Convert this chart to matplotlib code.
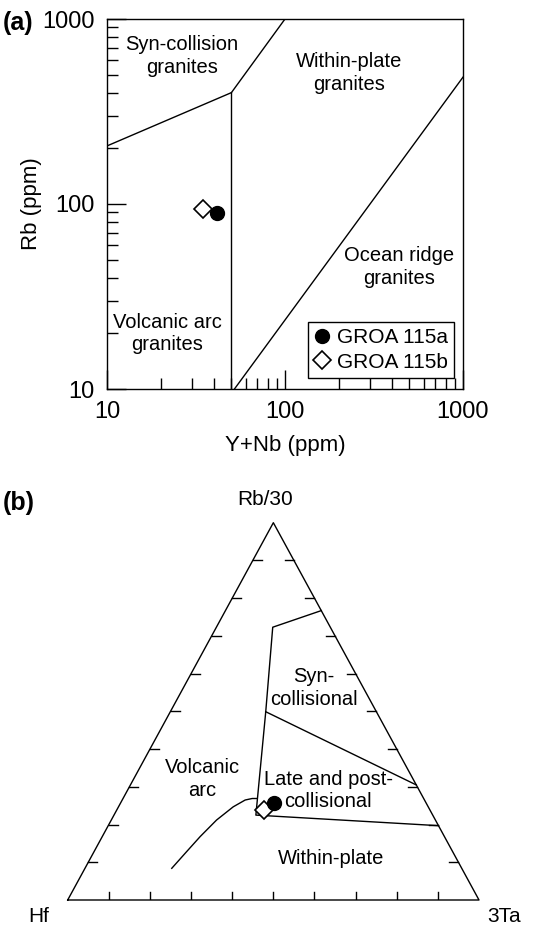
import matplotlib.pyplot as plt
import numpy as np

plt.rcParams['font.family'] = ['Liberation Sans', 'DejaVu Sans']

# ---- (a) Rb vs Y+Nb discrimination (Pearce et al. 1984)
syn_vag_x = [10, 50]
syn_vag_y = [206, 400]
vag_wpg_x = [50, 50]
vag_wpg_y = [10, 400]
syn_wpg_x = [50, 100]
syn_wpg_y = [400, 1000]
orb_wpg_x = [52, 1000]
orb_wpg_y = [10, 485]

sample_names = ['GROA 115a', 'GROA 115b']
sample_yNb = [41.7, 34.8]
sample_rb = [89, 94]

# ---- (b) Rb/30 - Hf - 3Ta ternary (Harris et al. 1986), fractions (Hf, 3Ta, Rb/30)
upper_line = [(0.0, 0.233, 0.767), (0.140, 0.137, 0.723), (0.269, 0.232, 0.499),
              (0.430, 0.345, 0.225), (0.0, 0.803, 0.197)]
syn_late_line = [(0.269, 0.232, 0.499), (0.0, 0.695, 0.305)]
vag_wp_curve = [(0.705, 0.211, 0.084), (0.651, 0.225, 0.128), (0.594, 0.238, 0.168),
                (0.532, 0.256, 0.212), (0.474, 0.279, 0.247), (0.436, 0.299, 0.265),
                (0.417, 0.314, 0.269), (0.406, 0.325, 0.269)]
tern_samples = [(0.370, 0.374, 0.256), (0.403, 0.359, 0.2385)]
tick_fracs = [0.1, 0.2, 0.3, 0.4, 0.5, 0.6, 0.7, 0.8, 0.9]


def tern(pts):
    pts = np.array(pts)
    return pts[:, 1] + pts[:, 2] / 2, pts[:, 2]


W, H = 544, 926
fig = plt.figure(figsize=(W / 100, H / 100), dpi=100)

ax = fig.add_axes([107 / W, 1 - 389 / H, 356 / W, 370 / H])
ax.set_xscale('log')
ax.set_yscale('log')
ax.set_xlim(10, 1000)
ax.set_ylim(10, 1000)
for xs, ys in [(syn_vag_x, syn_vag_y), (vag_wpg_x, vag_wpg_y),
               (syn_wpg_x, syn_wpg_y), (orb_wpg_x, orb_wpg_y)]:
    ax.plot(xs, ys, color='black', lw=1.0)
ax.plot(sample_yNb[0], sample_rb[0], 'o', ms=10, color='black', label=sample_names[0])
ax.plot(sample_yNb[1], sample_rb[1], 'D', ms=9, mfc='white', mec='black', mew=1.2,
        label=sample_names[1])
ax.tick_params(which='both', direction='in', top=False, right=False, labelsize=17, width=1.0)
ax.tick_params(which='major', length=14, pad=9)
ax.tick_params(which='minor', length=8)
ax.set_xticks([10, 100, 1000])
ax.set_xticklabels(['10', '100', '1000'])
ax.set_yticks([10, 100, 1000])
ax.set_yticklabels(['10', '100', '1000'])
for s in ax.spines.values():
    s.set_linewidth(1.0)
ax.set_xlabel('Y+Nb (ppm)', fontsize=16, labelpad=8)
ax.set_ylabel('Rb (ppm)', fontsize=16, labelpad=0)
lab = dict(transform=ax.transAxes, ha='center', va='center', fontsize=14.5, linespacing=1.25)
ax.text(0.21, 0.90, 'Syn-collision\ngranites', **lab)
ax.text(0.68, 0.855, 'Within-plate\ngranites', **lab)
ax.text(0.82, 0.33, 'Ocean ridge\ngranites', **lab)
ax.text(0.17, 0.15, 'Volcanic arc\ngranites', **lab)
leg = ax.legend(loc='lower right', bbox_to_anchor=(0.975, 0.03), borderaxespad=0,
                fontsize=15, fancybox=False, edgecolor='black', framealpha=1,
                handlelength=0.8, handletextpad=0.3, borderpad=0.3, labelspacing=0.25)
leg.get_frame().set_linewidth(1.0)
fig.text(3 / W, 1 - 23 / H, '(a)', fontsize=18, fontweight='bold', va='center')

# ---- ternary
bx = fig.add_axes([67.7 / W, 1 - 900 / H, 411.3 / W, 377.3 / H])
bx.set_xlim(0, 1)
bx.set_ylim(0, 1)
bx.axis('off')
bx.plot([0, 1, 0.5, 0], [0, 0, 1, 0], color='black', lw=1.0, clip_on=False)
tl_x = 9 / 411.3
tl_y = 8 / 377.3
for f in tick_fracs:
    bx.plot([f, f], [0, tl_y], color='black', lw=1.0)
    bx.plot([f / 2, f / 2 + tl_x], [f, f], color='black', lw=1.0)
    bx.plot([1 - f / 2, 1 - f / 2 - tl_x], [f, f], color='black', lw=1.0)
for line in [upper_line, syn_late_line, vag_wp_curve]:
    x, y = tern(line)
    bx.plot(x, y, color='black', lw=1.0)
sx, sy = tern(tern_samples)
bx.plot(sx[0], sy[0], 'o', ms=10, color='black', zorder=5)
bx.plot(sx[1], sy[1], 'D', ms=9, mfc='white', mec='black', mew=1.2, zorder=4)

bx.text(0.48, 1.062, 'Rb/30', ha='center', va='center', fontsize=15, clip_on=False)
bx.text(-0.07, -0.045, 'Hf', ha='center', va='center', fontsize=15, clip_on=False)
bx.text(1.06, -0.045, '3Ta', ha='center', va='center', fontsize=15, clip_on=False)
tl = dict(ha='center', va='center', fontsize=14.5, linespacing=1.25)
bx.text(0.599, 0.562, 'Syn-\ncollisional', **tl)
bx.text(0.633, 0.290, 'Late and post-\ncollisional', **tl)
bx.text(0.328, 0.321, 'Volcanic\narc', **tl)
bx.text(0.640, 0.109, 'Within-plate', **tl)
fig.text(3 / W, 1 - 503 / H, '(b)', fontsize=18, fontweight='bold', va='center')

fig.savefig('out.png', dpi=100)
